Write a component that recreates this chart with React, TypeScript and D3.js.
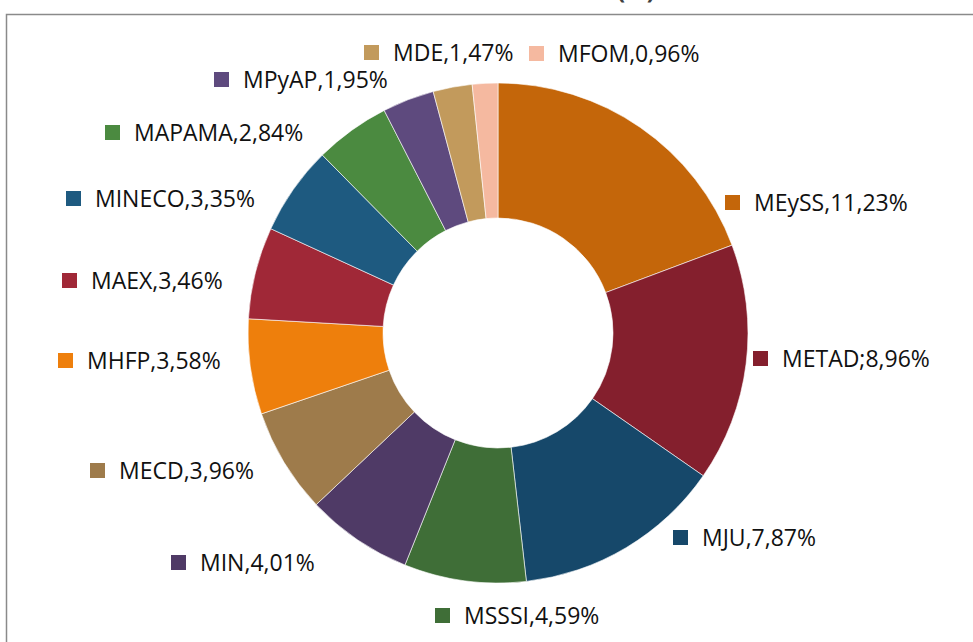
import React from "react";
import * as d3 from "d3";

const categories = ["MEySS", "METAD", "MJU", "MSSSI", "MIN", "MECD", "MHFP", "MAEX", "MINECO", "MAPAMA", "MPyAP", "MDE", "MFOM"];
const values = [11.23, 8.96, 7.87, 4.59, 4.01, 3.96, 3.58, 3.46, 3.35, 2.84, 1.95, 1.47, 0.96];
const labelTexts = ["MEySS,11,23%", "METAD;8,96%", "MJU,7,87%", "MSSSI,4,59%", "MIN,4,01%", "MECD,3,96%", "MHFP,3,58%", "MAEX,3,46%", "MINECO,3,35%", "MAPAMA,2,84%", "MPyAP,1,95%", "MDE,1,47%", "MFOM,0,96%"];
const colors = ["#C4660A", "#841F2D", "#16486A", "#3F6E37", "#4F3A66", "#9E7B4B", "#EE7F0C", "#A02837", "#1E5A80", "#4B8A40", "#5E4A7E", "#C29A5C", "#F5B9A0"];
// label anchor positions (swatch left x, text baseline y)
const labelPos: [number, number][] = [
  [725, 211], [753, 367], [673, 546], [435, 624], [171, 571], [90, 479],
  [58, 369], [62, 289], [66, 207], [105, 141], [214, 88], [364, 61], [529, 62],
];

export default function App() {
  const W = 973, H = 642;
  const cx = 498, cy = 333, R = 250, r = 115;
  const pie = d3.pie<number>().sort(null).value((d) => d).startAngle(0).endAngle(2 * Math.PI);
  const arcs = pie(values);
  const arc = d3.arc<d3.PieArcDatum<number>>().innerRadius(r).outerRadius(R);
  const font = "'Open Sans', 'Noto Sans', sans-serif";
  return (
    <svg width={W} height={H} style={{ position: "absolute", left: 0, top: 0, background: "#fff" }}>
      <rect x={0} y={0} width={W} height={H} fill="#fff" />
      <text x={655} y={-1} textAnchor="end" fontFamily={font} fontWeight="bold" fontSize={24} fill="#404040">(%)</text>
      <path d={`M6.5,${H} V14.5 H${W}`} fill="none" stroke="#8a8a8a" strokeWidth={1.5} />
      <g transform={`translate(${cx},${cy})`}>
        {arcs.map((a, i) => (
          <path key={categories[i]} d={arc(a) || ""} fill={colors[i]} stroke="#ffffff" strokeWidth={0.6} />
        ))}
      </g>
      {labelPos.map(([x, y], i) => (
        <g key={"l" + i}>
          <rect x={x} y={y - 16} width={15} height={15} fill={colors[i]} />
          <text x={x + 29} y={y} fontFamily={font} fontSize={23} fill="#111">{labelTexts[i]}</text>
        </g>
      ))}
    </svg>
  );
}
